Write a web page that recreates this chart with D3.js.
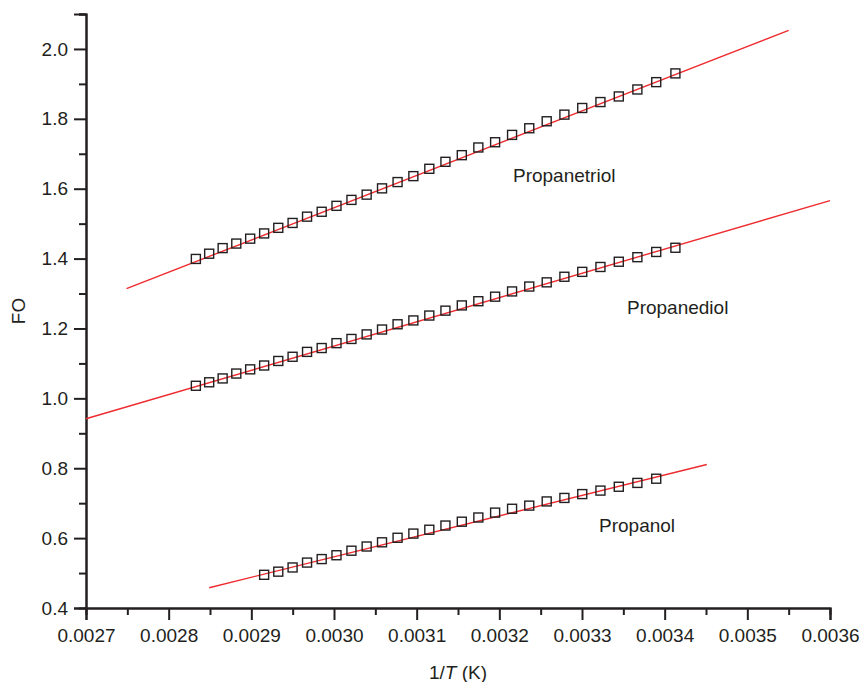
<!DOCTYPE html>
<html>
<head>
<meta charset="utf-8">
<script src="https://cdn.jsdelivr.net/npm/d3@7"></script>
<style>
    body { margin: 0; background: #fff; }
    #chart { width: 862px; height: 682px; }
    text { font-family: "Liberation Sans", Arial, Helvetica, sans-serif; fill: #231f20; }
</style>
</head>
<body>
<div id="chart"></div>
<script>
//Datos
const invT = [0.0028329, 0.0028490, 0.0028653, 0.0028818, 0.0028986, 0.0029155, 0.0029326, 0.0029499,
    0.0029674, 0.0029851, 0.0030030, 0.0030211, 0.0030395, 0.0030581, 0.0030769, 0.0030960,
    0.0031153, 0.0031348, 0.0031546, 0.0031746, 0.0031949, 0.0032154, 0.0032362, 0.0032573,
    0.0032787, 0.0033003, 0.0033223, 0.0033445, 0.0033670, 0.0033898, 0.0034130];

const propanetriol = [1.399, 1.414, 1.430, 1.443, 1.457, 1.472, 1.488, 1.502, 1.520, 1.534, 1.551,
    1.568, 1.583, 1.601, 1.619, 1.636, 1.657, 1.677, 1.696, 1.718, 1.733, 1.754, 1.773, 1.793,
    1.812, 1.831, 1.848, 1.864, 1.884, 1.905, 1.930];

const propanediol = [1.036, 1.046, 1.057, 1.071, 1.083, 1.094, 1.107, 1.119, 1.133, 1.144, 1.158,
    1.170, 1.183, 1.197, 1.212, 1.223, 1.237, 1.251, 1.266, 1.278, 1.291, 1.306, 1.320, 1.332,
    1.348, 1.362, 1.376, 1.391, 1.404, 1.419, 1.431];

const propanolX = invT.slice(5, 30);
const propanol = [0.495, 0.504, 0.516, 0.530, 0.540, 0.551, 0.564, 0.576, 0.588, 0.601, 0.613,
    0.624, 0.636, 0.647, 0.659, 0.673, 0.684, 0.693, 0.705, 0.715, 0.726, 0.736, 0.747, 0.758, 0.770];

//Rectas de ajuste (extremos)
const fitPropanetriol = [[0.002749, 1.314], [0.003550, 2.053]];
const fitPropanediol = [[0.0027, 0.9415], [0.0036, 1.566]];
const fitPropanol = [[0.002849, 0.458], [0.003451, 0.8106]];

const xTicks = [0.0027, 0.0028, 0.0029, 0.0030, 0.0031, 0.0032, 0.0033, 0.0034, 0.0035, 0.0036];
const xMinorTicks = [0.00275, 0.00285, 0.00295, 0.00305, 0.00315, 0.00325, 0.00335, 0.00345, 0.00355];
const yTicks = [0.4, 0.6, 0.8, 1.0, 1.2, 1.4, 1.6, 1.8, 2.0];
const yMinorTicks = [0.5, 0.7, 0.9, 1.1, 1.3, 1.5, 1.7, 1.9, 2.1];

//Colores fijos
const COLOR_AXIS = '#231f20',
COLOR_FIT = '#ee2b2f';

let margin = {top: 14, right: 32, bottom: 74, left: 86},
    width = document.getElementById('chart').clientWidth - margin.left - margin.right,
    height = document.getElementById('chart').clientHeight - margin.top - margin.bottom;

let svg = d3.select("#chart")
    .append("svg")
        .attr("width", width + margin.left + margin.right)
        .attr("height", height + margin.top + margin.bottom)
    .append("g")
        .attr("transform", "translate(" + margin.left + "," + margin.top + ")");

let x = d3.scaleLinear()
    .domain([0.0027, 0.0036])
    .range([0, width]);

let y = d3.scaleLinear()
    .domain([0.4, 2.1])
    .range([height, 0]);

function styleAxis(g) {
    g.select('.domain').attr('stroke', COLOR_AXIS).attr('stroke-width', 2);
    g.selectAll('.tick line').attr('stroke', COLOR_AXIS).attr('stroke-width', 2);
    g.selectAll('.tick text').style('font-size', '19px').attr('fill', COLOR_AXIS);
}

//Ejes
svg.append("g")
    .attr("transform", "translate(0," + height + ")")
    .call(d3.axisBottom(x).tickValues(xMinorTicks).tickSize(7).tickFormat(''))
    .call(styleAxis);

svg.append("g")
    .attr("transform", "translate(0," + height + ")")
    .call(d3.axisBottom(x).tickValues(xTicks).tickSize(12).tickPadding(9).tickFormat(d3.format('.4f')))
    .call(styleAxis);

svg.append("g")
    .call(d3.axisLeft(y).tickValues(yMinorTicks).tickSize(7).tickFormat(''))
    .call(styleAxis);

svg.append("g")
    .call(d3.axisLeft(y).tickValues(yTicks).tickSize(12).tickPadding(6).tickFormat(d3.format('.1f')))
    .call(styleAxis);

//Títulos de ejes
let xTitle = svg.append('text')
    .attr('x', width / 2)
    .attr('y', height + 71)
    .attr('text-anchor', 'middle')
    .style('font-size', '19px');
xTitle.append('tspan').text('1/');
xTitle.append('tspan').style('font-style', 'italic').text('T');
xTitle.append('tspan').text(' (K)');

svg.append('text')
    .attr('transform', 'translate(' + (-61) + ',' + (y(1.25)) + ') rotate(-90)')
    .attr('text-anchor', 'middle')
    .style('font-size', '19px')
    .text('FO');

//Rectas
let line = d3.line()
    .x(function(d) { return x(d[0]); })
    .y(function(d) { return y(d[1]); });

[fitPropanetriol, fitPropanediol, fitPropanol].forEach(function(fit) {
    svg.append('path')
        .datum(fit)
        .attr('d', line)
        .attr('fill', 'none')
        .attr('stroke', COLOR_FIT)
        .attr('stroke-width', 1.4);
});

//Puntos
let series = [
    {name: 'Propanetriol', xs: invT, ys: propanetriol},
    {name: 'Propanediol', xs: invT, ys: propanediol},
    {name: 'Propanol', xs: propanolX, ys: propanol}
];

let size = 9;
series.forEach(function(s) {
    svg.selectAll('sq')
        .data(s.ys)
        .enter()
        .append('rect')
        .attr('x', function(d, i) { return x(s.xs[i]) - size / 2; })
        .attr('y', function(d) { return y(d) - size / 2; })
        .attr('width', size)
        .attr('height', size)
        .attr('fill', 'none')
        .attr('stroke', COLOR_AXIS)
        .attr('stroke-width', 1.4);
});

//Etiquetas
let labels = [
    {text: 'Propanetriol', x: 0.0032165, y: 1.619},
    {text: 'Propanediol', x: 0.0033544, y: 1.2424},
    {text: 'Propanol', x: 0.0033206, y: 0.6178}
];

svg.selectAll('lbl')
    .data(labels)
    .enter()
    .append('text')
    .attr('x', function(d) { return x(d.x); })
    .attr('y', function(d) { return y(d.y); })
    .style('font-size', '19px')
    .text(function(d) { return d.text; });
</script>
</body>
</html>
